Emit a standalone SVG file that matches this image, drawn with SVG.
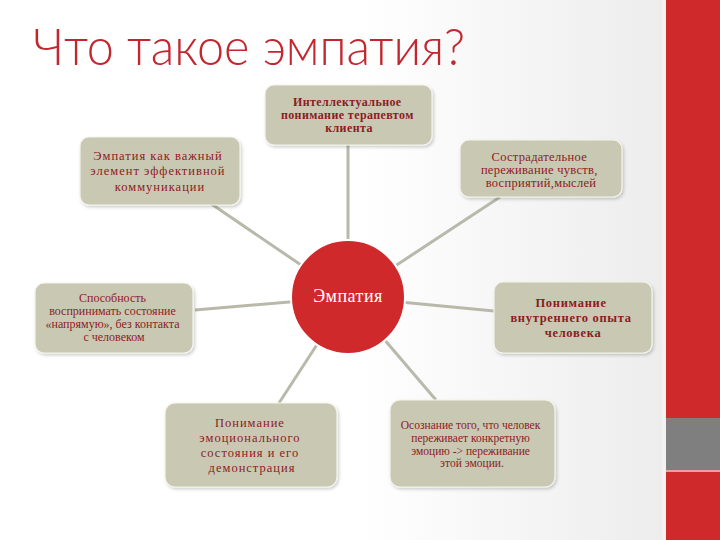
<svg xmlns="http://www.w3.org/2000/svg" width="720" height="540" viewBox="0 0 720 540">
  <defs>
    <linearGradient id="bg" x1="0" y1="0" x2="1" y2="0">
      <stop offset="0" stop-color="#FFFFFF"/>
      <stop offset="0.5" stop-color="#FFFFFF"/>
      <stop offset="1" stop-color="#E9E9E9"/>
    </linearGradient>
    <filter id="sh" x="-10%" y="-10%" width="125%" height="130%">
      <feDropShadow dx="1.5" dy="2" stdDeviation="1.5" flood-color="#000" flood-opacity="0.18"/>
    </filter>
    <style>
      .box { fill: #C9C8B3; stroke: #F4F3EC; stroke-width: 1.2; filter: url(#sh); }
      .lbl { font-family: "Liberation Serif", "DejaVu Serif", serif; fill: #8E1B1E; text-anchor: middle; }
      .con { stroke: #B9B9AB; stroke-width: 3; fill: none; }
    </style>
  </defs>
  <rect x="0" y="0" width="720" height="540" fill="url(#bg)"/>
  <rect x="662" y="0" width="4" height="540" fill="#F2F2F2"/>
  <g id="sidebar">
    <rect x="666" y="0" width="54" height="540" fill="#D0292C"/>
    <rect x="666" y="418" width="54" height="52" fill="#7F7F7F"/>
    <rect x="666" y="470" width="54" height="2" fill="#E8A0A0"/>
  </g>
  <text x="33" y="65" font-family="Lato, 'Liberation Sans', sans-serif" font-weight="300" font-size="52" fill="#C3262E" textLength="432" lengthAdjust="spacingAndGlyphs">Что такое эмпатия?</text>

  <g id="connectors">
    <line class="con" x1="348" y1="297" x2="348" y2="145"/>
    <line class="con" x1="348" y1="297" x2="210" y2="203"/>
    <line class="con" x1="348" y1="297" x2="500" y2="197"/>
    <line class="con" x1="348" y1="297" x2="195" y2="310"/>
    <line class="con" x1="348" y1="297" x2="494" y2="311"/>
    <line class="con" x1="348" y1="297" x2="279" y2="403"/>
    <line class="con" x1="348" y1="297" x2="436" y2="400"/>
  </g>

  <g id="center">
    <circle cx="348" cy="297" r="57" fill="#D0292C" stroke="#FFFFFF" stroke-width="2"/>
    <text x="348" y="302" font-family="'Liberation Serif', 'DejaVu Serif', serif" font-size="18" fill="#FFFFFF" text-anchor="middle" letter-spacing="0.5">Эмпатия</text>
  </g>

  <g id="n-top">
    <rect class="box" x="265" y="85" width="167" height="60" rx="9"/>
    <text class="lbl" font-size="12" font-weight="bold" letter-spacing="0.4">
      <tspan x="349" y="106">Интеллектуальное</tspan>
      <tspan x="349" y="119">понимание терапевтом</tspan>
      <tspan x="349" y="132">клиента</tspan>
    </text>
  </g>

  <g id="n-topleft">
    <rect class="box" x="80" y="137" width="160" height="68" rx="9"/>
    <text class="lbl" font-size="12.5" letter-spacing="1">
      <tspan x="160" y="160">Эмпатия как важный</tspan>
      <tspan x="160" y="175">элемент эффективной</tspan>
      <tspan x="160" y="191">коммуникации</tspan>
    </text>
  </g>

  <g id="n-topright">
    <rect class="box" x="460" y="140" width="162" height="57" rx="9"/>
    <text class="lbl" font-size="12.5" letter-spacing="0.3">
      <tspan x="541" y="161">Сострадательное</tspan>
      <tspan x="541" y="174">переживание чувств,</tspan>
      <tspan x="541" y="187">восприятий,мыслей</tspan>
    </text>
  </g>

  <g id="n-left">
    <rect class="box" x="35" y="283" width="158" height="70" rx="9"/>
    <text class="lbl" font-size="12">
      <tspan x="114" y="302">Способность</tspan>
      <tspan x="114" y="315">воспринимать состояние</tspan>
      <tspan x="114" y="328">«напрямую», без контакта</tspan>
      <tspan x="114" y="341">с человеком</tspan>
    </text>
  </g>

  <g id="n-right">
    <rect class="box" x="494" y="282" width="158" height="71" rx="9"/>
    <text class="lbl" font-size="12.5" font-weight="bold" letter-spacing="0.7">
      <tspan x="573" y="307">Понимание</tspan>
      <tspan x="573" y="322">внутреннего опыта</tspan>
      <tspan x="573" y="337">человека</tspan>
    </text>
  </g>

  <g id="n-bottomleft">
    <rect class="box" x="165" y="403" width="172" height="84" rx="10"/>
    <text class="lbl" font-size="12.5" letter-spacing="1">
      <tspan x="252" y="427">Понимание</tspan>
      <tspan x="252" y="442">эмоционального</tspan>
      <tspan x="252" y="457">состояния и  его</tspan>
      <tspan x="252" y="472">демонстрация</tspan>
    </text>
  </g>

  <g id="n-bottomright">
    <rect class="box" x="390" y="400" width="165" height="87" rx="10"/>
    <text class="lbl" font-size="11.5">
      <tspan x="472" y="429">Осознание того, что человек</tspan>
      <tspan x="472" y="442">переживает конкретную</tspan>
      <tspan x="472" y="455">эмоцию -&gt; переживание</tspan>
      <tspan x="472" y="467">этой эмоции.</tspan>
    </text>
  </g>
</svg>
